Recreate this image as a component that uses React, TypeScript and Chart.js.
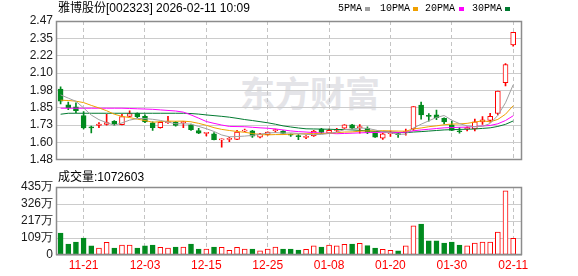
import React, { useEffect, useRef } from 'react';
import { Chart, registerables } from 'chart.js';

Chart.register(...registerables);

const dates = ['11-18','11-19','11-20','11-21','11-24','11-25','11-26','11-27','11-28','12-01','12-02','12-03','12-04','12-05','12-08','12-09','12-10','12-11','12-12','12-15','12-16','12-17','12-18','12-19','12-22','12-23','12-24','12-25','12-26','12-29','12-30','12-31','01-05','01-06','01-07','01-08','01-09','01-12','01-13','01-14','01-15','01-16','01-19','01-20','01-21','01-22','01-23','01-26','01-27','01-28','01-29','01-30','02-02','02-03','02-04','02-05','02-06','02-09','02-10','02-11'];

const opens = [1.985,1.872,1.858,1.796,1.712,1.725,1.732,1.755,1.730,1.790,1.812,1.790,1.743,1.710,1.745,1.748,1.745,1.730,1.688,1.668,1.665,1.622,1.626,1.626,1.684,1.686,1.642,1.660,1.688,1.685,1.658,1.648,1.640,1.650,1.700,1.670,1.690,1.705,1.730,1.710,1.705,1.670,1.635,1.667,1.665,1.675,1.700,1.870,1.795,1.800,1.775,1.730,1.685,1.700,1.700,1.750,1.760,1.810,2.030,2.300];
const highs = [2.000,1.892,1.886,1.824,1.720,1.746,1.805,1.760,1.805,1.830,1.815,1.800,1.750,1.750,1.790,1.752,1.755,1.735,1.705,1.675,1.675,1.630,1.640,1.690,1.700,1.690,1.668,1.680,1.700,1.688,1.666,1.660,1.652,1.690,1.705,1.700,1.705,1.732,1.733,1.732,1.716,1.672,1.670,1.686,1.675,1.700,1.860,1.892,1.810,1.835,1.780,1.755,1.710,1.715,1.771,1.789,1.812,1.970,2.167,2.390];
const lows = [1.879,1.838,1.817,1.700,1.672,1.709,1.727,1.725,1.728,1.785,1.780,1.745,1.690,1.705,1.740,1.720,1.710,1.690,1.667,1.650,1.622,1.570,1.610,1.624,1.680,1.640,1.636,1.655,1.675,1.664,1.647,1.624,1.631,1.647,1.666,1.668,1.680,1.703,1.700,1.670,1.666,1.640,1.625,1.647,1.640,1.655,1.690,1.770,1.755,1.767,1.736,1.688,1.670,1.686,1.686,1.732,1.748,1.800,2.007,2.290];
const closes = [1.898,1.851,1.831,1.707,1.708,1.735,1.746,1.736,1.789,1.810,1.787,1.750,1.710,1.748,1.750,1.725,1.750,1.695,1.670,1.672,1.624,1.626,1.630,1.678,1.688,1.648,1.665,1.678,1.692,1.668,1.655,1.645,1.645,1.685,1.675,1.690,1.695,1.730,1.705,1.715,1.675,1.642,1.665,1.670,1.660,1.680,1.860,1.800,1.790,1.780,1.750,1.690,1.680,1.710,1.750,1.765,1.790,1.970,2.160,2.390];

const ma5 = [1.943,1.920,1.897,1.850,1.799,1.766,1.745,1.726,1.743,1.763,1.774,1.774,1.769,1.761,1.749,1.737,1.737,1.734,1.718,1.702,1.682,1.657,1.644,1.646,1.649,1.654,1.662,1.671,1.674,1.670,1.672,1.668,1.661,1.660,1.661,1.668,1.678,1.695,1.699,1.707,1.704,1.693,1.680,1.673,1.662,1.663,1.707,1.734,1.758,1.782,1.796,1.762,1.738,1.722,1.716,1.719,1.739,1.797,1.887,2.015];
const ma10 = [1.905,1.903,1.898,1.888,1.868,1.850,1.830,1.805,1.790,1.781,1.770,1.760,1.748,1.752,1.756,1.755,1.756,1.751,1.740,1.726,1.709,1.697,1.689,1.682,1.676,1.668,1.660,1.658,1.660,1.660,1.663,1.665,1.666,1.667,1.666,1.670,1.673,1.678,1.679,1.684,1.686,1.686,1.688,1.686,1.685,1.684,1.700,1.707,1.716,1.722,1.730,1.735,1.736,1.740,1.749,1.758,1.751,1.768,1.805,1.866];
const ma20 = [1.848,1.848,1.848,1.848,1.848,1.848,1.848,1.848,1.848,1.846,1.844,1.842,1.840,1.836,1.832,1.828,1.820,1.800,1.777,1.753,1.740,1.728,1.718,1.717,1.716,1.712,1.708,1.705,1.700,1.693,1.686,1.681,1.678,1.674,1.671,1.669,1.666,1.668,1.670,1.672,1.674,1.675,1.677,1.677,1.675,1.677,1.687,1.693,1.698,1.703,1.708,1.710,1.712,1.713,1.717,1.721,1.725,1.737,1.760,1.794];
const ma30 = [1.805,1.812,1.812,1.812,1.812,1.812,1.812,1.812,1.812,1.812,1.812,1.812,1.812,1.812,1.812,1.812,1.812,1.810,1.806,1.800,1.795,1.790,1.784,1.776,1.767,1.760,1.752,1.744,1.734,1.722,1.714,1.707,1.701,1.700,1.699,1.698,1.696,1.696,1.693,1.690,1.686,1.682,1.681,1.678,1.675,1.674,1.678,1.681,1.685,1.689,1.693,1.695,1.697,1.698,1.700,1.704,1.708,1.718,1.733,1.757];

const volumes = [1410000,700000,830000,1090000,580000,450000,810000,450000,640000,640000,450000,580000,640000,490000,450000,510000,510000,700000,380000,380000,510000,490000,300000,490000,380000,380000,260000,380000,510000,380000,380000,320000,360000,580000,510000,640000,580000,680000,700000,750000,600000,450000,360000,300000,260000,580000,1860000,1980000,900000,900000,770000,830000,640000,580000,770000,830000,830000,1470000,4100000,1072603];

const dateTickIndex = [3, 11, 19, 27, 35, 43, 51, 59];
const priceTickLabels = ['1.48', '1.60', '1.73', '1.85', '1.98', '2.10', '2.22', '2.35', '2.47'];
const volumeTickLabels = ['0', '109万', '217万', '326万', '435万'];

const PRICE_MIN = 1.48;
const PRICE_MAX = 2.47;
const VOL_MAX = 4350000;
const X_MIN = -0.6;
const X_MAX = 60.15;

const RED = '#ff0000';
const GREEN = '#008a1e';
const FONT = '"Liberation Sans", Arial, sans-serif';

const boxPlugin = {
  id: 'box',
  afterDatasetsDraw(chart: any) {
    const { ctx, chartArea } = chart;
    const l = Math.round(chartArea.left) + 0.5;
    const t = Math.round(chartArea.top) + 0.5;
    const r = Math.round(chartArea.right) - 0.5;
    const b = Math.round(chartArea.bottom) - 0.5;
    ctx.save();
    ctx.strokeStyle = '#8c8c8c';
    ctx.lineWidth = 1.5;
    ctx.strokeRect(l, t, r - l, b - t);
    ctx.restore();
  },
};

function xScale(show: boolean) {
  return {
    type: 'linear',
    min: X_MIN,
    max: X_MAX,
    offset: false,
    afterBuildTicks: (s: any) => {
      s.ticks = dateTickIndex.map((v) => ({ value: v }));
    },
    afterFit: (s: any) => {
      s.height = show ? 21 : 0;
    },
    grid: { display: true, color: '#c4c4c4', lineWidth: 1, drawTicks: false, offset: false },
    border: { display: false, dash: [4, 3] },
    ticks: {
      display: show,
      autoSkip: false,
      maxRotation: 0,
      color: RED,
      padding: 3,
      font: { size: 12, family: FONT },
      callback: (v: any) => dates[v] ?? '',
    },
  };
}

function yScale(min: number, max: number, labels: string[]) {
  return {
    type: 'linear',
    min,
    max,
    afterBuildTicks: (s: any) => {
      s.ticks = labels.map((_, k) => ({ value: min + (k * (max - min)) / (labels.length - 1) }));
    },
    afterFit: (s: any) => {
      s.width = 56;
    },
    grid: { color: '#cccccc', lineWidth: 1, drawTicks: false },
    border: { display: false },
    ticks: {
      autoSkip: false,
      color: '#1a1a1a',
      padding: 3,
      font: { size: 12, family: FONT },
      callback: (_v: any, k: number) => labels[k],
    },
  };
}

export default function App() {
  const priceRef = useRef<HTMLCanvasElement>(null);
  const volRef = useRef<HTMLCanvasElement>(null);

  useEffect(() => {
    const up = closes.map((c, i) => c >= opens[i]);
    const line = (data: number[], color: string) => ({
      type: 'line',
      data: data.map((v, i) => ({ x: i, y: v })),
      borderColor: color,
      borderWidth: 1,
      pointRadius: 0,
      tension: 0,
      fill: false,
      order: 0,
    });

    const priceChart = new Chart(priceRef.current as HTMLCanvasElement, {
      type: 'bar',
      data: {
        datasets: [
          line(ma5, '#a0a0a0'),
          line(ma10, '#f0a000'),
          line(ma20, '#ff00ff'),
          line(ma30, '#007a30'),
          {
            type: 'bar',
            data: opens.map((o, i) => ({ x: i, y: [o, closes[i]] })),
            backgroundColor: up.map((u) => (u ? '#ffffff' : GREEN)),
            borderColor: up.map((u) => (u ? RED : GREEN)),
            borderWidth: 1,
            borderSkipped: false,
            barThickness: 5,
            minBarLength: 1,
            grouped: false,
            order: 1,
          },
          {
            type: 'bar',
            data: lows.map((lo, i) => ({ x: i, y: [lo, highs[i]] })),
            backgroundColor: up.map((u) => (u ? RED : GREEN)),
            borderWidth: 0,
            barThickness: 1,
            grouped: false,
            order: 2,
          },
        ] as any,
      },
      options: {
        responsive: false,
        animation: false,
        devicePixelRatio: 1,
        layout: { padding: { top: 21, right: 56, bottom: 5, left: 0 } },
        plugins: { legend: { display: false }, tooltip: { enabled: false } },
        scales: {
          x: xScale(false) as any,
          y: yScale(PRICE_MIN, PRICE_MAX, priceTickLabels) as any,
        },
      },
      plugins: [boxPlugin],
    });

    const volChart = new Chart(volRef.current as HTMLCanvasElement, {
      type: 'bar',
      data: {
        datasets: [
          {
            data: volumes.map((v, i) => ({ x: i, y: v })),
            backgroundColor: up.map((u) => (u ? '#ffffff' : GREEN)),
            borderColor: up.map((u) => (u ? RED : GREEN)),
            borderWidth: 1,
            borderSkipped: false,
            barThickness: 5,
            grouped: false,
          },
        ] as any,
      },
      options: {
        responsive: false,
        animation: false,
        devicePixelRatio: 1,
        layout: { padding: { top: 17, right: 56, bottom: 0, left: 0 } },
        plugins: { legend: { display: false }, tooltip: { enabled: false } },
        scales: {
          x: xScale(true) as any,
          y: yScale(0, VOL_MAX, volumeTickLabels) as any,
        },
      },
      plugins: [boxPlugin],
    });

    return () => {
      priceChart.destroy();
      volChart.destroy();
    };
  }, []);

  const textFont = '"Liberation Sans", "Noto Sans CJK SC", sans-serif';
  const legendItems = [
    { label: '5PMA', left: 338, mark: 365, color: '#a0a0a0' },
    { label: '10PMA', left: 380, mark: 413, color: '#f0a000' },
    { label: '20PMA', left: 425, mark: 459, color: '#ff00ff' },
    { label: '30PMA', left: 472, mark: 505, color: '#007a30' },
  ];

  return (
    <div style={{ position: 'fixed', left: 0, top: 0, width: 578, height: 276, background: '#ffffff', overflow: 'hidden' }}>
      <div
        style={{
          position: 'absolute', left: 240, top: 74, fontSize: 35, lineHeight: 1, fontWeight: 700,
          color: '#e4e4e8', fontFamily: '"Noto Sans CJK SC", sans-serif', whiteSpace: 'nowrap',
        }}
      >
        东方财富
      </div>
      <canvas ref={priceRef} width={578} height={170} style={{ position: 'absolute', left: 0, top: 0, width: 578, height: 170 }} />
      <canvas ref={volRef} width={578} height={106} style={{ position: 'absolute', left: 0, top: 170, width: 578, height: 106 }} />
      <div style={{ position: 'absolute', left: 58, top: 1, fontSize: 12, lineHeight: '14px', color: '#000', fontFamily: textFont, whiteSpace: 'nowrap' }}>
        雅博股份[002323] 2026-02-11 10:09
      </div>
      {legendItems.map((it) => (
        <React.Fragment key={it.label}>
          <div style={{ position: 'absolute', left: it.left, top: 3, fontSize: 10, lineHeight: '12px', color: '#000', fontFamily: '"Liberation Mono", monospace', whiteSpace: 'nowrap' }}>
            {it.label}
          </div>
          <div style={{ position: 'absolute', left: it.mark, top: 7, width: 5, height: 4, background: it.color }} />
        </React.Fragment>
      ))}
      <div style={{ position: 'absolute', left: 58, top: 170, fontSize: 12, lineHeight: '14px', color: '#000', fontFamily: textFont, whiteSpace: 'nowrap' }}>
        成交量:{volumes[volumes.length - 1]}
      </div>
    </div>
  );
}
